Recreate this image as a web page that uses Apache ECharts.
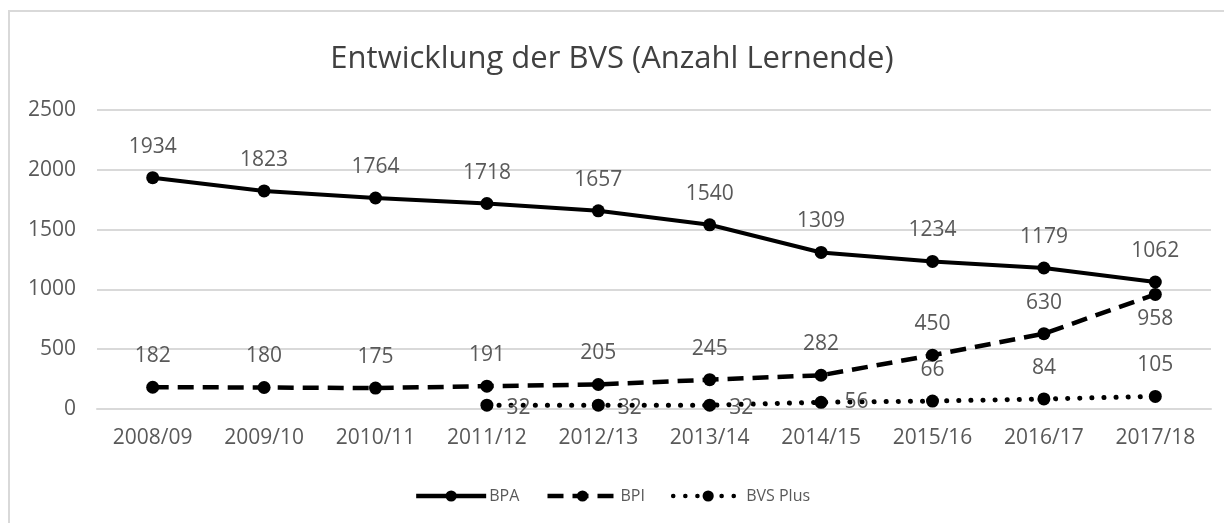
<!DOCTYPE html>
<html><head><meta charset="utf-8">
<script src="https://cdn.jsdelivr.net/npm/echarts@6/dist/echarts.min.js"></script>
<style>html,body{margin:0;padding:0;background:#fff}#c{width:1224px;height:523px}</style>
</head><body><div id="c"></div>
<script>
const categories = ['2008/09','2009/10','2010/11','2011/12','2012/13','2013/14','2014/15','2015/16','2016/17','2017/18'];
const bpa = [1934,1823,1764,1718,1657,1540,1309,1234,1179,1062];
const bpi = [182,180,175,191,205,245,282,450,630,958];
const bvsPlus = [null,null,null,32,32,32,56,66,84,105];
const yTicks = [0,500,1000,1500,2000,2500];

const font = 'Open Sans';
const txt = '#595959';
const chart = echarts.init(document.getElementById('c'));

function lblData(vals, posFn) {
  return vals.map((v, i) => {
    if (v === null) return null;
    const p = posFn(i);
    return p ? {value: v, label: p} : v;
  });
}

const baseLabel = {show: true, position: 'top', distance: 14, color: txt, fontFamily: font, fontSize: 21};

chart.setOption({
  animation: false,
  title: {text: 'Entwicklung der BVS (Anzahl Lernende)', left: 'center', top: 39,
    textStyle: {fontFamily: font, fontSize: 31, fontWeight: 'normal', color: '#404040'}},
  graphic: [{type: 'rect', shape: {x: 9, y: 11, width: 1400, height: 800},
    style: {fill: 'none', stroke: '#d9d9d9', lineWidth: 2}}],
  grid: {left: 97, right: 13, top: 110, bottom: 114},
  legend: {top: 483, left: 'center', itemWidth: 70, itemHeight: 14, itemGap: 26,
    lineStyle: {width: 4.5},
    textStyle: {fontFamily: font, fontSize: 16, color: txt, padding: [0,0,0,-2]},
    data: ['BPA','BPI','BVS Plus']},
  xAxis: {type: 'category', data: categories, boundaryGap: true,
    axisLine: {lineStyle: {color: '#d9d9d9', width: 2}}, axisTick: {show: false},
    axisLabel: {color: txt, fontFamily: font, fontSize: 21, margin: 19}},
  yAxis: {type: 'value', min: yTicks[0], max: yTicks[yTicks.length-1], interval: 500,
    splitLine: {lineStyle: {color: '#d9d9d9', width: 2}},
    axisLine: {show: false}, axisTick: {show: false},
    axisLabel: {color: txt, fontFamily: font, fontSize: 21, margin: 21, formatter: v => String(v)}},
  series: [
    {name: 'BPA', type: 'line', data: bpa, symbol: 'circle', symbolSize: 13,
      lineStyle: {color: '#000', width: 4}, itemStyle: {color: '#000'},
      label: baseLabel},
    {name: 'BPI', type: 'line',
      data: lblData(bpi, i => i === bpi.length-1 ? {position: 'bottom', distance: 8} : null),
      symbol: 'circle', symbolSize: 13,
      lineStyle: {color: '#000', width: 4.5, type: [16, 9]}, itemStyle: {color: '#000'},
      label: baseLabel},
    {name: 'BVS Plus', type: 'line',
      data: lblData(bvsPlus, i => (i >= 3 && i <= 5) ? {position: 'right', distance: 13, offset: [0, 3]} :
                                  (i === 6 ? {position: 'right', distance: 17} : null)),
      symbol: 'circle', symbolSize: 13,
      lineStyle: {color: '#000', width: 5, type: [0.1, 12], cap: 'round'}, itemStyle: {color: '#000'},
      label: baseLabel}
  ]
});
</script></body></html>
